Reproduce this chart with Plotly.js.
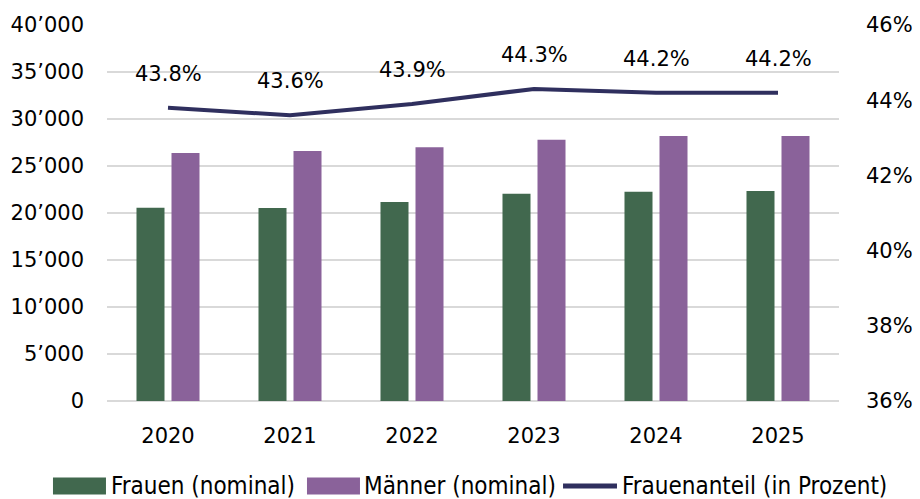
<!DOCTYPE html>
<html><head><meta charset="utf-8">
<script src="https://cdn.plot.ly/plotly-3.0.1.min.js"></script>
<style>body{margin:0;background:#fff}#c{width:920px;height:499px}</style>
</head><body><div id="c"></div>
<script>
var years = [2020, 2021, 2022, 2023, 2024, 2025];
var frauen = [20550, 20530, 21170, 22050, 22270, 22330];
var maenner = [26380, 26600, 27000, 27800, 28200, 28200];
var anteil = [43.8, 43.6, 43.9, 44.3, 44.2, 44.2];
var anteilLabels = ['43.8%','43.6%','43.9%','44.3%','44.2%','44.2%'];
var leftTicks = [0,5000,10000,15000,20000,25000,30000,35000,40000];
var leftTickText = ['0','5\u2019000','10\u2019000','15\u2019000','20\u2019000','25\u2019000','30\u2019000','35\u2019000','40\u2019000'];
var rightTicks = [36,38,40,42,44,46];
var rightTickText = ['36%','38%','40%','42%','44%','46%'];
var seriesNames = ['Frauen (nominal)', 'M\u00e4nner (nominal)', 'Frauenanteil (in Prozent)'];
var colors = ['#41684E', '#8A629A', '#2F2F5E'];

var font = 'DejaVu Sans, Verdana, sans-serif';
var legFont = 'DejaVu Sans Condensed, DejaVu Sans, sans-serif';
var traces = [
  {type:'bar', name:seriesNames[0], x:years, y:frauen, marker:{color:colors[0]}},
  {type:'bar', name:seriesNames[1], x:years, y:maenner, marker:{color:colors[1]}},
  {type:'scatter', mode:'lines', name:seriesNames[2], x:years, y:anteil, yaxis:'y2',
   line:{color:colors[2], width:4}}
];
var annotations = years.map(function(y,i){
  return {x:y, y:anteil[i], xref:'x', yref:'y2', text:anteilLabels[i], showarrow:false,
          yshift:34, font:{family:font, size:21, color:'#000'}};
});
// custom legend (paper coords)
var legX = [[-0.0738, -0.0014], [0.2732, 0.3456], [0.6230, 0.6967]];
var legTextX = [0.0027, 0.3484, 0.7008];
var shapes = [];
for (var k=0;k<3;k++){
  if (k<2) {
    shapes.push({type:'rect', xref:'paper', yref:'paper', x0:legX[k][0], x1:legX[k][1],
                 y0:-0.2035, y1:-0.249, fillcolor:colors[k], line:{width:0}});
  } else {
    shapes.push({type:'line', xref:'paper', yref:'paper', x0:legX[k][0], x1:legX[k][1],
                 y0:-0.226, y1:-0.226, line:{color:colors[k], width:5}});
  }
  annotations.push({xref:'paper', yref:'paper', x:legTextX[k], y:-0.226, xanchor:'left', yanchor:'middle',
                    text:seriesNames[k], showarrow:false, font:{family:legFont, size:24, color:'#000'}});
}
var layout = {
  width:920, height:499,
  margin:{l:107, r:81, t:25, b:98},
  paper_bgcolor:'#fff', plot_bgcolor:'#fff',
  barmode:'group', bargap:0.426, bargroupgap:0.2,
  font:{family:font, size:21, color:'#000'},
  xaxis:{range:[2019.5, 2025.5], tickvals:years, showgrid:false, showline:false, zeroline:false, ticks:'',
         tickfont:{size:21}, ticklabelstandoff:20},
  yaxis:{range:[0,40000], tickvals:leftTicks, ticktext:leftTickText, showgrid:true,
         gridcolor:'#D9D9D9', gridwidth:1.5, zeroline:true, zerolinecolor:'#D9D9D9', zerolinewidth:1.5,
         ticks:'', ticklabelstandoff:22, tickfont:{size:21}},
  yaxis2:{range:[36,46], tickvals:rightTicks, ticktext:rightTickText, overlaying:'y', side:'right',
          showgrid:false, zeroline:false, ticks:'', ticklabelstandoff:26, tickfont:{size:21}},
  showlegend:false,
  annotations:annotations,
  shapes:shapes
};
Plotly.newPlot('c', traces, layout, {displayModeBar:false, staticPlot:true});
</script></body></html>
